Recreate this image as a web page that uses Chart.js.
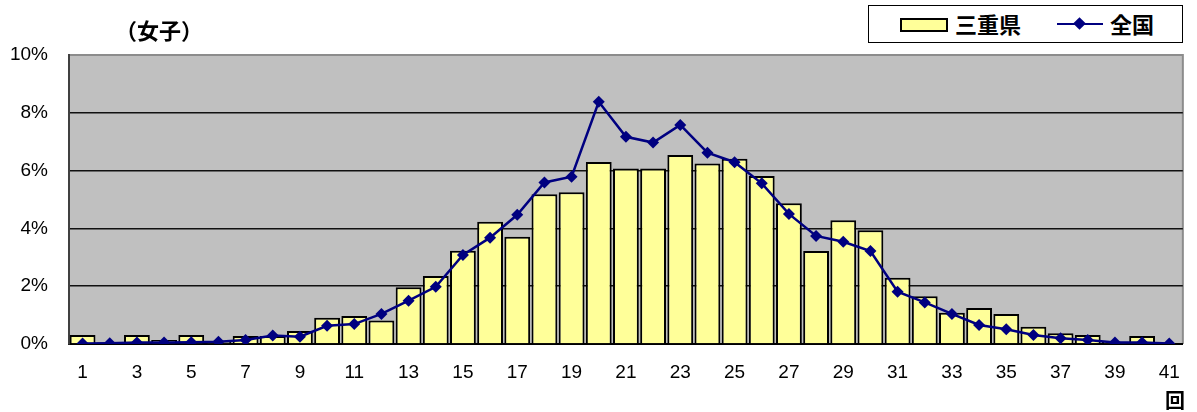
<!DOCTYPE html>
<html>
<head>
<meta charset="utf-8">
<script src="https://cdn.jsdelivr.net/npm/chart.js@4/dist/chart.umd.min.js"></script>
<style>
  html, body { margin: 0; padding: 0; background: #fff; }
  #wrap { position: relative; width: 1197px; height: 412px; }
  #chart { position: absolute; left: 0; top: 0; }
  .jp { position: absolute; font-family: "Noto Sans CJK JP", sans-serif; font-weight: bold; color: #000; white-space: nowrap; }
  #title { left: 115px; top: 15px; font-size: 22px; line-height: 28px; }
  #unit { left: 1165px; top: 386px; font-size: 20px; line-height: 28px; }
  #legend { position: absolute; left: 868px; top: 5px; width: 313px; height: 36px; border: 1px solid #000; background: #fff; }
  #legend .swatch { position: absolute; left: 31px; top: 12px; width: 44px; height: 10px; background: #ffff99; border: 2px solid #000; }
  #legend .lbl1 { left: 86px; top: 3px; font-size: 22px; line-height: 28px; }
  #legend .lineSw { position: absolute; left: 188px; top: 17px; width: 46px; height: 2px; background: #000080; }
  #legend .dia { position: absolute; left: 206px; top: 13px; width: 9px; height: 9px; background: #000080; transform: rotate(45deg); }
  #legend .lbl2 { left: 241px; top: 3px; font-size: 22px; line-height: 28px; }
</style>
</head>
<body>
<div id="wrap">
  <canvas id="chart" width="1197" height="412"></canvas>
  <div id="title" class="jp">（女子）</div>
  <div id="unit" class="jp">回</div>
  <div id="legend">
    <div class="swatch"></div>
    <div class="jp lbl1">三重県</div>
    <div class="lineSw"></div>
    <div class="dia"></div>
    <div class="jp lbl2">全国</div>
  </div>
</div>
<script>
// 受験回数 (1〜41回)
const rounds = Array.from({ length: 41 }, (_, i) => String(i + 1));

// 三重県 (%)
const mieValues = [0.31, 0.05, 0.31, 0.14, 0.31, 0.08, 0.28, 0.28, 0.45, 0.91,
  0.97, 0.81, 1.96, 2.35, 3.23, 4.23, 3.71, 5.18, 5.25, 6.30,
  6.07, 6.07, 6.54, 6.25, 6.41, 5.81, 4.87, 3.22, 4.28, 3.94,
  2.29, 1.65, 1.08, 1.25, 1.04, 0.60, 0.37, 0.31, 0.08, 0.28, 0];

// 全国 (%)
const nationalValues = [0.02, 0.03, 0.05, 0.05, 0.06, 0.08, 0.14, 0.29, 0.25, 0.63,
  0.69, 1.04, 1.50, 1.98, 3.08, 3.68, 4.47, 5.59, 5.79, 8.38,
  7.17, 6.97, 7.58, 6.62, 6.29, 5.56, 4.50, 3.74, 3.54, 3.22,
  1.81, 1.44, 1.04, 0.66, 0.51, 0.31, 0.20, 0.14, 0.05, 0.05, 0.02];

const yTicks = [0, 2, 4, 6, 8, 10];

// plot background + top/right frame
const plotFrame = {
  id: 'plotFrame',
  beforeDraw(chart) {
    const { ctx, chartArea: a } = chart;
    ctx.save();
    ctx.fillStyle = '#c0c0c0';
    ctx.fillRect(a.left, a.top, a.right - a.left, a.bottom - a.top);
    ctx.strokeStyle = '#8c8c8c';
    ctx.lineWidth = 2;
    ctx.beginPath();
    ctx.moveTo(a.left, a.top);
    ctx.lineTo(a.right, a.top);
    ctx.lineTo(a.right, a.bottom);
    ctx.stroke();
    ctx.restore();
  }
};

const tickFont = { family: '"Liberation Sans", Arial, sans-serif', size: 19 };

new Chart(document.getElementById('chart'), {
  data: {
    labels: rounds,
    datasets: [
      {
        type: 'line',
        label: '全国',
        data: nationalValues,
        borderColor: '#000080',
        backgroundColor: '#000080',
        borderWidth: 2.5,
        pointStyle: 'rectRot',
        pointRadius: 6,
        pointBorderWidth: 0,
        tension: 0,
        order: 0
      },
      {
        type: 'bar',
        label: '三重県',
        data: mieValues,
        backgroundColor: '#ffff99',
        borderColor: '#000',
        borderWidth: 2,
        barPercentage: 0.95,
        categoryPercentage: 1,
        order: 1
      }
    ]
  },
  options: {
    responsive: false,
    animation: false,
    layout: { padding: { top: 55, right: 14, left: 0, bottom: 0 } },
    plugins: { legend: { display: false }, tooltip: { enabled: false } },
    scales: {
      x: {
        grid: { display: false, drawTicks: false },
        border: { display: true, color: '#000', width: 2 },
        ticks: {
          autoSkip: false,
          maxRotation: 0,
          padding: 17,
          color: '#000',
          font: tickFont,
          callback: (v, i) => (i % 2 === 0 ? rounds[i] : '')
        },
        afterFit: s => { s.height = 68; }
      },
      y: {
        min: 0,
        max: 10,
        afterBuildTicks: s => { s.ticks = yTicks.map(v => ({ value: v })); },
        grid: {
          drawTicks: false,
          color: c => (c.tick.value === 0 || c.tick.value === 10 ? 'rgba(0,0,0,0)' : '#111'),
          lineWidth: 1.5
        },
        border: { display: true, color: '#404040', width: 2 },
        ticks: {
          padding: 21,
          color: '#000',
          font: tickFont,
          callback: v => v + '%'
        },
        afterFit: s => { s.width = 69; }
      }
    }
  },
  plugins: [plotFrame]
});
</script>
</body>
</html>
